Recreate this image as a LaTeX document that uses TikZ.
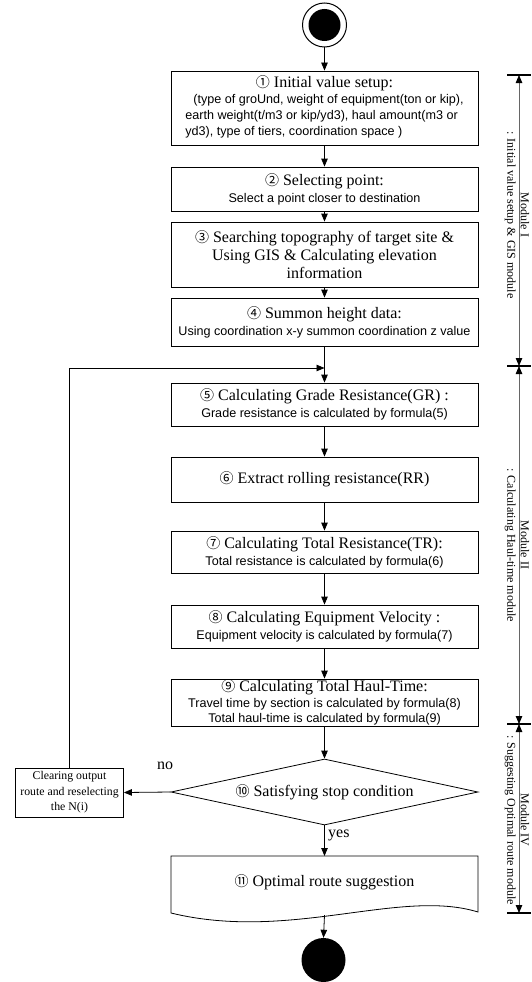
\documentclass[tikz,border=0pt]{standalone}
\usepackage{fontspec}
\setmainfont{Liberation Serif}
\newfontfamily\ssf{Liberation Sans}
\newfontfamily\cjk{Noto Sans CJK KR}
\usetikzlibrary{arrows.meta,shapes.geometric}
\newcommand\tf{\rmfamily\fontsize{16}{18}\selectfont}
\newcommand\sff{\ssf\fontsize{12.6}{15}\selectfont}
\newcommand\cnum[1]{{\cjk\fontsize{14}{14}\selectfont #1}}
\begin{document}
\begin{tikzpicture}[x=1pt,y=-1pt,
  box/.style={draw, line width=0.8pt, minimum width=307pt, inner sep=0pt, align=center, font=\sff},
  arr/.style={line width=0.8pt, -{Triangle[length=8pt,width=6.5pt]}},
  modline/.style={line width=0.8pt, draw=black!60, {Triangle[length=8pt,width=6.5pt,color=black]}-{Triangle[length=8pt,width=6.5pt,color=black]}},
  bar/.style={line width=1.2pt},
  modlab/.style={rotate=-90, align=center, font=\fontsize{12}{13.5}\selectfont, inner sep=0pt},
  lbl/.style={font=\tf, inner sep=0pt}]
\useasboundingbox (0,0) rectangle (531,982);

% start
\node[circle, draw, line width=1pt, minimum size=44pt, inner sep=0pt] (start) at (324.5,25) {};
\fill (start.center) circle (16pt);

% boxes
\node[box, minimum height=74pt] (b1) at (324.5,108) {{\tf\cnum{①} Initial value setup:}\\[1pt]
  {\ssf\fontsize{12.6}{16}\selectfont\begin{tabular}{@{}l@{}}\hspace*{8pt}(type of groUnd, weight of equipment(ton or kip),\\earth weight(t/m3 or kip/yd3), haul amount(m3 or\\yd3), type of tiers, coordination space )\end{tabular}}};
\node[box, minimum height=44pt] (b2) at (324.5,189) {{\tf\cnum{②} Selecting point:}\\[2pt]Select a point closer to destination};
\node[box, minimum height=65pt, font=\tf] (b3) at (324.5,254.5) {\cnum{③} Searching topography of target site \&\\Using GIS \& Calculating elevation\\information};
\node[box, minimum height=48pt] (b4) at (324.5,322) {{\tf\cnum{④} Summon height data:}\\[2pt]Using coordination x-y summon coordination z value};
\node[box, minimum height=43pt] (b5) at (324.5,404.5) {{\tf\cnum{⑤} Calculating Grade Resistance(GR) :}\\[2pt]Grade resistance is calculated by formula(5)};
\node[box, minimum height=45pt] (b6) at (324.5,479.5) {{\tf\cnum{⑥} Extract rolling resistance(RR)}};
\node[box, minimum height=42pt] (b7) at (324.5,552) {{\tf\cnum{⑦} Calculating Total Resistance(TR):}\\[2pt]Total resistance is calculated by formula(6)};
\node[box, minimum height=43pt] (b8) at (324.5,626.5) {{\tf\cnum{⑧} Calculating Equipment Velocity :}\\[2pt]Equipment velocity is calculated by formula(7)};
\node[box, minimum height=47pt] (b9) at (324.5,702.5) {{\tf\cnum{⑨} Calculating Total Haul-Time:}\\[1pt]Travel time by section is calculated by formula(8)\\Total haul-time is calculated by formula(9)};

% decision
\node[diamond, draw, line width=0.8pt, minimum width=307pt, minimum height=66pt, aspect=4.65, inner sep=0pt, font=\tf] (d10) at (324.5,792) {\cnum{⑩} Satisfying stop condition};

% clearing box
\node[draw, line width=0.8pt, minimum width=108pt, minimum height=49pt, align=center, inner sep=0pt, font=\fontsize{11.8}{15.5}\selectfont] (clr) at (69.5,792.5) {Clearing output\\route and reselecting\\the N(i)};

% document shape
\draw[line width=0.8pt] (171,856) -- (478,856) -- (478,912) .. controls (400,888) and (290,942) .. (171,913) -- cycle;
\node[lbl] (b11) at (324.5,882) {\cnum{⑪} Optimal route suggestion};
\coordinate (b11top) at (324.5,856);
\coordinate (b11bot) at (324.5,915);

% end
\node[circle, fill, minimum size=44pt, inner sep=0pt] (end) at (323.5,960) {};

% connectors
\draw[arr] (start.south) -- (b1.north);
\draw[arr] (b1) -- (b2);
\draw[arr] (b2) -- (b3);
\draw[arr] (b3) -- (b4);
\draw[arr] (b4) -- (b5);
\coordinate (jn) at (324.5,368);
\draw[arr] (clr.north) |- (jn);
\draw[arr] (b5) -- (b6);
\draw[arr] (b6) -- (b7);
\draw[arr] (b7) -- (b8);
\draw[arr] (b8) -- (b9);
\draw[arr] (b9) -- (d10);
\draw[arr] (d10.west) -- (clr.east);
\node[lbl] (no) at (165,766) {no};
\draw[arr] (d10.south) -- (b11top);
\node[lbl, anchor=west] (yes) at (328,835) {yes};
\draw[arr] (b11bot) -- (end.north);

% module axis
\coordinate (m0) at (519,75);
\coordinate (m1) at (519,366);
\coordinate (m2) at (519,724);
\coordinate (m3) at (519,913);
\foreach \m in {m0,m1,m2,m3}{\draw[bar] ([xshift=-12pt]\m) -- ([xshift=12pt]\m);}
\draw[modline] (m0) -- (m1);
\draw[modline] (m1) -- (m2);
\draw[modline] (m2) -- (m3);
\node[modlab] (lab1) at (517,215) {Module I\\: Initial value setup \& GIS module};
\node[modlab] (lab2) at (517,545) {Module II\\: Calculating Haul-time module};
\node[modlab] (lab3) at (517,820) {Module IV\\: Suggesting Optimal route module};
\end{tikzpicture}
\end{document}
